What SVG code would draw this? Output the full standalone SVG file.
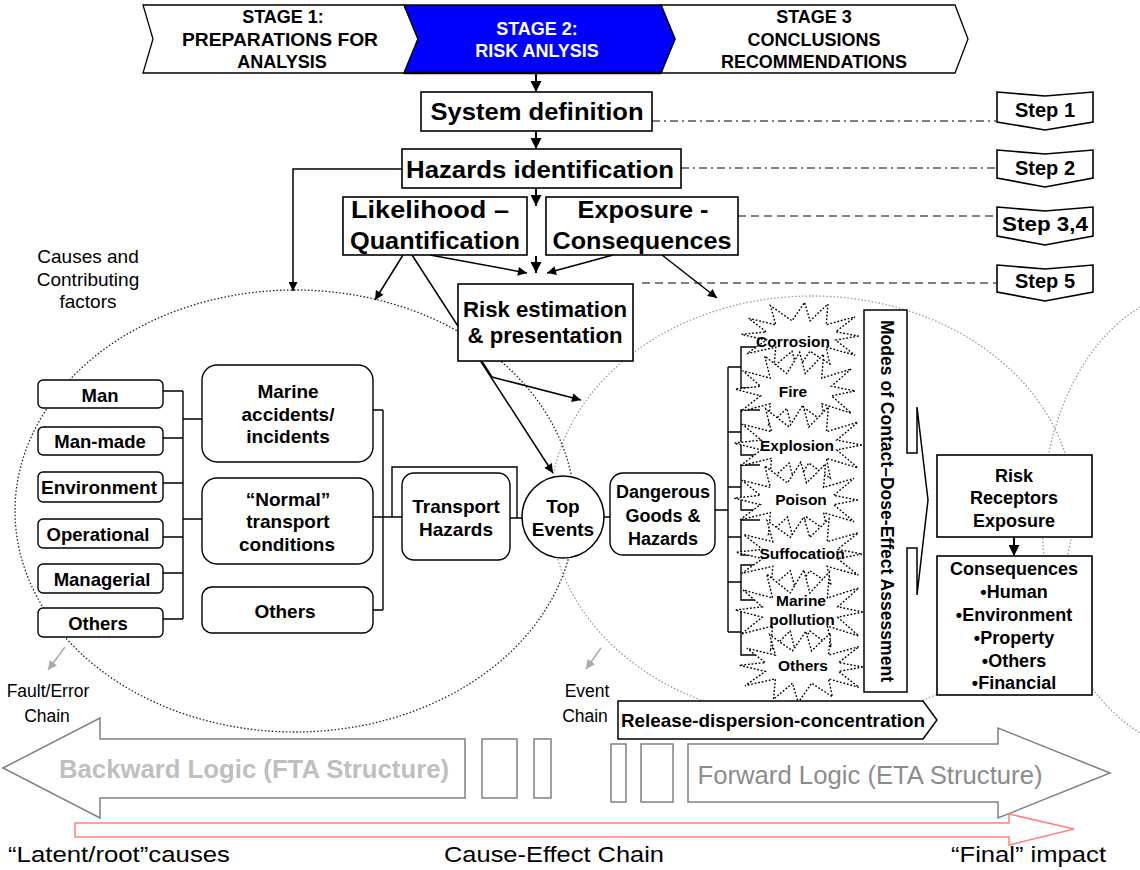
<svg xmlns="http://www.w3.org/2000/svg" xmlns:xlink="http://www.w3.org/1999/xlink" width="1140" height="870" viewBox="0 0 1140 870">
<defs>
<style>
.b{font-family:"Liberation Sans",Arial,sans-serif;font-weight:bold;fill:#000}
.r{font-family:"Liberation Sans",Arial,sans-serif;fill:#000}
.m{text-anchor:middle}
.box{fill:#fff;stroke:#000;stroke-width:1.6}
.rbox{fill:#fff;stroke:#000;stroke-width:1.4}
.ln{fill:none;stroke:#000;stroke-width:1.4}
.ar{fill:none;stroke:#000;stroke-width:1.5;marker-end:url(#ah)}
.big{fill:none;stroke:#000;stroke-width:2;marker-end:url(#ahb)}
.dd{fill:none;stroke:#000;stroke-width:1.2;stroke-dasharray:8 4 2 4}
.da{fill:none;stroke:#000;stroke-width:1.2;stroke-dasharray:8 5}
.ga{fill:none;stroke:#aaa;stroke-width:1.5;marker-end:url(#ahg)}
.star{fill:#fff;stroke:#000;stroke-width:1.4;stroke-dasharray:1.8 1.8}
.gbox{fill:#fff;stroke:#808080;stroke-width:1.5}
</style>
<marker id="ah" viewBox="0 0 10 10" refX="10" refY="5" markerWidth="11" markerHeight="9" markerUnits="userSpaceOnUse" orient="auto"><path d="M0,0 L10,5 L0,10 z" fill="#000"/></marker>
<marker id="ahb" viewBox="0 0 10 10" refX="10" refY="5" markerWidth="12" markerHeight="11" markerUnits="userSpaceOnUse" orient="auto"><path d="M0,0 L10,5 L0,10 z" fill="#000"/></marker>
<marker id="ahg" viewBox="0 0 10 10" refX="10" refY="5" markerWidth="10" markerHeight="9" markerUnits="userSpaceOnUse" orient="auto"><path d="M0,0 L10,5 L0,10 z" fill="#aaa"/></marker>
<path id="star" vector-effect="non-scaling-stroke" d="M64,0 L38.6,5.2 L60,24 L28,14 L32,35 L10,19 L-4,42 L-10,19 L-30,38 L-28,14 L-60,22 L-38.6,5.2 L-66,-2 L-38.6,-5.2 L-58,-22 L-28,-14 L-34,-38 L-10,-19 L4,-42 L10,-19 L30,-40 L28,-14 L60,-24 L38.6,-5.2 Z"/>
</defs>
<rect width="1140" height="870" fill="#fff"/>

<!-- background ellipses -->
<g id="ellipses" fill="none">
<ellipse cx="295" cy="511" rx="280" ry="221" stroke="#222" stroke-width="1.3" stroke-dasharray="1.5 2"/>
<ellipse cx="812" cy="508" rx="262" ry="212" stroke="#999" stroke-width="1.3" stroke-dasharray="1.5 2"/>
<ellipse cx="1200" cy="520" rx="158" ry="230" stroke="#999" stroke-width="1.3" stroke-dasharray="1.5 2"/>
</g>

<!-- connectors -->
<g id="connectors">
<line class="big" x1="536" y1="73" x2="536" y2="92"/>
<line class="big" x1="536" y1="131" x2="536" y2="149"/>
<line class="big" x1="536" y1="188" x2="536" y2="206"/>
<line class="big" x1="536" y1="256" x2="536" y2="273"/>
<line class="ar" x1="430" y1="255" x2="527" y2="273"/>
<line class="ar" x1="613" y1="255" x2="547" y2="273"/>
<polyline class="ar" points="402,169 293,169 293,291"/>
<line class="ar" x1="403" y1="255" x2="375" y2="300"/>
<line class="ar" x1="412" y1="255" x2="553" y2="473"/>
<polyline class="ar" points="481,360 492,377 581,400"/>
<line class="ar" x1="662" y1="255" x2="717" y2="298"/>
<line class="dd" x1="652" y1="121" x2="996" y2="121"/>
<line class="dd" x1="681" y1="168" x2="996" y2="168"/>
<line class="da" x1="738" y1="216" x2="996" y2="216"/>
<line class="da" x1="642" y1="283" x2="996" y2="283"/>
<path class="ln" d="M163,391 H183 M163,438 H183 M163,483 H183 M163,537 H183 M163,573 H183 M163,619 H183 M183,391 V619 M183,419 H202 M183,519 H202"/>
<path class="ln" d="M373,410 H383 M373,610 H383 M383,410 V610 M373,517 H402"/>
<path class="ln" d="M392,517 V467 H517 V518 M510,518 H522 M603,517 H612"/>
<path class="ln" d="M715,510 H728 M728,367 V632 M728,367 H741 M728,432 H741 M728,487 H741 M728,537 H741 M728,582 H741 M728,632 H741"/>
<path class="ln" d="M760,347 H741 V388 H760 M760,410 H741 V455 H760 M760,465 H741 V510 H760 M760,520 H741 V555 H760 M760,565 H741 V600 H760 M760,610 H741 V655 H760"/>
<line class="big" x1="1014" y1="537" x2="1014" y2="556"/>
<line class="ga" x1="65" y1="647" x2="48" y2="670"/>
<line class="ga" x1="601" y1="648" x2="586" y2="669"/>
</g>

<!-- stages -->
<g id="stage1">
<polygon points="143,5 404,5 418,39 404,73 143,73 153,39" fill="#fff" stroke="#000" stroke-width="1.3"/>
<text class="b m" x="283" y="23" font-size="18">STAGE 1:</text>
<text class="b m" x="280" y="46" font-size="18" textLength="196" lengthAdjust="spacingAndGlyphs">PREPARATIONS FOR</text>
<text class="b m" x="282" y="68" font-size="18">ANALYSIS</text>
</g>
<g id="stage3">
<polygon points="661,5 955,5 968,39 955,73 661,73 675,39" fill="#fff" stroke="#000" stroke-width="1.3"/>
<text class="b m" x="814" y="23" font-size="18">STAGE 3</text>
<text class="b m" x="814" y="46" font-size="18">CONCLUSIONS</text>
<text class="b m" x="814" y="68" font-size="18" textLength="186" lengthAdjust="spacingAndGlyphs">RECOMMENDATIONS</text>
</g>
<g id="stage2">
<polygon points="404,5 661,5 675,39 661,73 404,73 418,39" fill="#0000ff" stroke="#000" stroke-width="1.3"/>
<line x1="404" y1="73" x2="661" y2="73" stroke="#000" stroke-width="2.5"/>
<text class="b m" x="537" y="35" font-size="18" style="fill:#fff">STAGE 2:</text>
<text class="b m" x="537" y="57" font-size="18" style="fill:#fff">RISK ANLYSIS</text>
</g>

<!-- main boxes -->
<g id="system-definition">
<rect class="box" x="421" y="92" width="231" height="39"/>
<text class="b m" x="537" y="120" font-size="23" textLength="213" lengthAdjust="spacingAndGlyphs">System definition</text>
</g>
<g id="hazards-identification">
<rect class="box" x="402" y="149" width="279" height="39"/>
<text class="b m" x="540" y="178" font-size="23" textLength="268" lengthAdjust="spacingAndGlyphs">Hazards identification</text>
</g>
<g id="likelihood">
<rect class="box" x="343" y="197" width="184" height="58"/>
<text class="b m" x="430" y="218" font-size="23" textLength="158" lengthAdjust="spacingAndGlyphs">Likelihood –</text>
<text class="b m" x="435" y="249" font-size="23" textLength="170" lengthAdjust="spacingAndGlyphs">Quantification</text>
</g>
<g id="exposure">
<rect class="box" x="546" y="197" width="192" height="58"/>
<text class="b m" x="643" y="218" font-size="23" textLength="131" lengthAdjust="spacingAndGlyphs">Exposure -</text>
<text class="b m" x="642" y="249" font-size="23" textLength="179" lengthAdjust="spacingAndGlyphs">Consequences</text>
</g>
<g id="risk-estimation">
<rect class="box" x="458" y="284" width="175" height="77"/>
<text class="b m" x="545" y="317" font-size="22" textLength="164" lengthAdjust="spacingAndGlyphs">Risk estimation</text>
<text class="b m" x="545" y="343" font-size="22" textLength="155" lengthAdjust="spacingAndGlyphs">&amp; presentation</text>
</g>

<!-- steps -->
<g id="step1">
<polygon class="box" points="997,92 1045,96 1093,92 1093,122 1045,130 997,122"/>
<text class="b m" x="1045" y="117" font-size="20">Step 1</text>
</g>
<g id="step2">
<polygon class="box" points="997,150 1045,154 1093,150 1093,178 1045,187 997,178"/>
<text class="b m" x="1045" y="175" font-size="20">Step 2</text>
</g>
<g id="step34">
<polygon class="box" points="997,207 1045,211 1093,207 1093,236 1045,245 997,236"/>
<text class="b m" x="1045" y="231" font-size="20" textLength="86" lengthAdjust="spacingAndGlyphs">Step 3,4</text>
</g>
<g id="step5">
<polygon class="box" points="997,265 1045,269 1093,265 1093,292 1045,301 997,292"/>
<text class="b m" x="1045" y="288" font-size="20">Step 5</text>
</g>

<g id="causes-label">
<text class="r m" x="88" y="263" font-size="19">Causes and</text>
<text class="r m" x="88" y="286" font-size="19">Contributing</text>
<text class="r m" x="88" y="308" font-size="19">factors</text>
</g>

<!-- left factor boxes -->
<g id="man"><rect class="rbox" x="38" y="380" width="125" height="28" rx="5"/><text class="b m" x="100" y="402" font-size="18.5">Man</text></g>
<g id="man-made"><rect class="rbox" x="38" y="427" width="125" height="28" rx="5"/><text class="b m" x="100" y="448" font-size="18.5">Man-made</text></g>
<g id="environment"><rect class="rbox" x="38" y="472" width="125" height="30" rx="5"/><text class="b m" x="99" y="494" font-size="18.5" textLength="116" lengthAdjust="spacingAndGlyphs">Environment</text></g>
<g id="operational"><rect class="rbox" x="38" y="519" width="125" height="29" rx="5"/><text class="b m" x="98" y="541" font-size="18.5">Operational</text></g>
<g id="managerial"><rect class="rbox" x="38" y="564" width="125" height="29" rx="5"/><text class="b m" x="102" y="586" font-size="18.5">Managerial</text></g>
<g id="others-factor"><rect class="rbox" x="38" y="608" width="125" height="29" rx="5"/><text class="b m" x="98" y="630" font-size="18.5">Others</text></g>

<!-- big boxes -->
<g id="marine-accidents"><rect class="rbox" x="202" y="365" width="171" height="97" rx="15"/>
<text class="b m" x="288" y="398" font-size="19">Marine</text>
<text class="b m" x="288" y="421" font-size="19">accidents/</text>
<text class="b m" x="288" y="443" font-size="19">incidents</text></g>
<g id="normal-transport"><rect class="rbox" x="202" y="478" width="171" height="86" rx="15"/>
<text class="b m" x="288" y="506" font-size="19">“Normal”</text>
<text class="b m" x="288" y="528" font-size="19">transport</text>
<text class="b m" x="287" y="551" font-size="19">conditions</text></g>
<g id="others-conditions"><rect class="rbox" x="202" y="587" width="171" height="46" rx="10"/>
<text class="b m" x="285" y="618" font-size="19">Others</text></g>

<g id="transport-hazards"><rect class="rbox" x="402" y="473" width="108" height="87" rx="12"/>
<text class="b m" x="456" y="513" font-size="19">Transport</text>
<text class="b m" x="456" y="536" font-size="19">Hazards</text></g>
<g id="top-events"><circle cx="563" cy="517" r="41" fill="#fff" stroke="#000" stroke-width="1.5"/>
<text class="b m" x="563" y="513" font-size="19">Top</text>
<text class="b m" x="563" y="536" font-size="19">Events</text></g>
<g id="dangerous-goods"><rect class="rbox" x="610" y="473" width="105" height="82" rx="13"/>
<text class="b m" x="663" y="498" font-size="18">Dangerous</text>
<text class="b m" x="663" y="522" font-size="18">Goods &amp;</text>
<text class="b m" x="663" y="545" font-size="18">Hazards</text></g>

<!-- starbursts -->
<g id="starbursts">
<use xlink:href="#star" class="star" transform="translate(801,336) scale(0.9,0.8)"/>
<use xlink:href="#star" class="star" transform="translate(796,391) scale(0.92,0.92)"/>
<use xlink:href="#star" class="star" transform="translate(799,445) scale(0.98,0.95)"/>
<use xlink:href="#star" class="star" transform="translate(797,500) scale(0.95,0.9)"/>
<use xlink:href="#star" class="star" transform="translate(800,554) scale(0.97,0.88)"/>
<use xlink:href="#star" class="star" transform="translate(800,612) scale(0.98,1.0)"/>
<use xlink:href="#star" class="star" transform="translate(802,667) scale(0.95,0.85)"/>
</g>
<g id="hazard-labels">
<text class="b m" x="793" y="347" font-size="15.5">Corrosion</text>
<text class="b m" x="793" y="397" font-size="15.5">Fire</text>
<text class="b m" x="797" y="451" font-size="15.5">Explosion</text>
<text class="b m" x="801" y="505" font-size="15.5">Poison</text>
<text class="b m" x="802" y="559" font-size="15.5">Suffocation</text>
<text class="b m" x="801" y="606" font-size="15.5">Marine</text>
<text class="b m" x="802" y="625" font-size="15.5">pollution</text>
<text class="b m" x="803" y="671" font-size="15.5">Others</text>
</g>

<g id="modes-assessment">
<path d="M864,310 H907 V453 H917 V407 L928,500 L917,595 V548 H907 V692 H864 Z" fill="#fff" stroke="#000" stroke-width="1.5"/>
<text class="b m" x="881" y="501" font-size="17.5" transform="rotate(90 881 501)" textLength="362" lengthAdjust="spacingAndGlyphs">Modes of Contact–Dose-Effect Assessment</text>
</g>

<g id="risk-receptors"><rect class="box" x="937" y="455" width="155" height="82"/>
<text class="b m" x="1014" y="482" font-size="18">Risk</text>
<text class="b m" x="1014" y="504" font-size="18">Receptors</text>
<text class="b m" x="1014" y="527" font-size="18">Exposure</text></g>
<g id="consequences"><rect class="box" x="937" y="556" width="155" height="139"/>
<text class="b m" x="1014" y="575" font-size="18">Consequences</text>
<text class="b m" x="1014" y="598" font-size="18">•Human</text>
<text class="b m" x="1014" y="621" font-size="18">•Environment</text>
<text class="b m" x="1014" y="644" font-size="18">•Property</text>
<text class="b m" x="1014" y="667" font-size="18">•Others</text>
<text class="b m" x="1014" y="689" font-size="18">•Financial</text></g>

<g id="release"><polygon points="618,701 923,701 937,720 923,739 618,739" fill="#fff" stroke="#000" stroke-width="1.5"/>
<text class="b" x="621" y="727" font-size="18.5" textLength="304" lengthAdjust="spacingAndGlyphs">Release-dispersion-concentration</text></g>

<g id="chain-labels">
<text class="r m" x="48" y="697" font-size="17.5">Fault/Error</text>
<text class="r m" x="47" y="722" font-size="17.5">Chain</text>
<text class="r m" x="587" y="697" font-size="17.5">Event</text>
<text class="r m" x="585" y="722" font-size="17.5">Chain</text>
</g>

<g id="backward-logic">
<polygon class="gbox" points="3,768 100,718 100,739 465,739 465,798 100,798 100,818"/>
<text class="b m" x="254" y="778" font-size="25" style="fill:#bfbfbf" textLength="390" lengthAdjust="spacingAndGlyphs">Backward Logic (FTA Structure)</text>
<rect class="gbox" x="482" y="739" width="35" height="59"/>
<rect class="gbox" x="534" y="739" width="17" height="59"/>
</g>
<g id="forward-logic">
<rect class="gbox" x="611" y="744" width="15" height="58"/>
<rect class="gbox" x="641" y="744" width="32" height="58"/>
<polygon class="gbox" points="688,744 998,744 998,728 1110,773 998,818 998,802 688,802"/>
<text class="r m" x="870" y="784" font-size="25" style="fill:#8c8c8c" textLength="345" lengthAdjust="spacingAndGlyphs">Forward Logic (ETA Structure)</text>
</g>
<g id="cause-effect-chain">
<polygon points="75,823 1009,823 1009,814 1074,829 1009,845 1009,837 75,837" fill="none" stroke="#ff8080" stroke-width="1.5"/>
<text class="r" x="8" y="862" font-size="22" textLength="222" lengthAdjust="spacingAndGlyphs">“Latent/root”causes</text>
<text class="r m" x="554" y="862" font-size="22" textLength="220" lengthAdjust="spacingAndGlyphs">Cause-Effect Chain</text>
<text class="r" x="951" y="862" font-size="22" textLength="155" lengthAdjust="spacingAndGlyphs">“Final” impact</text>
</g>
</svg>
